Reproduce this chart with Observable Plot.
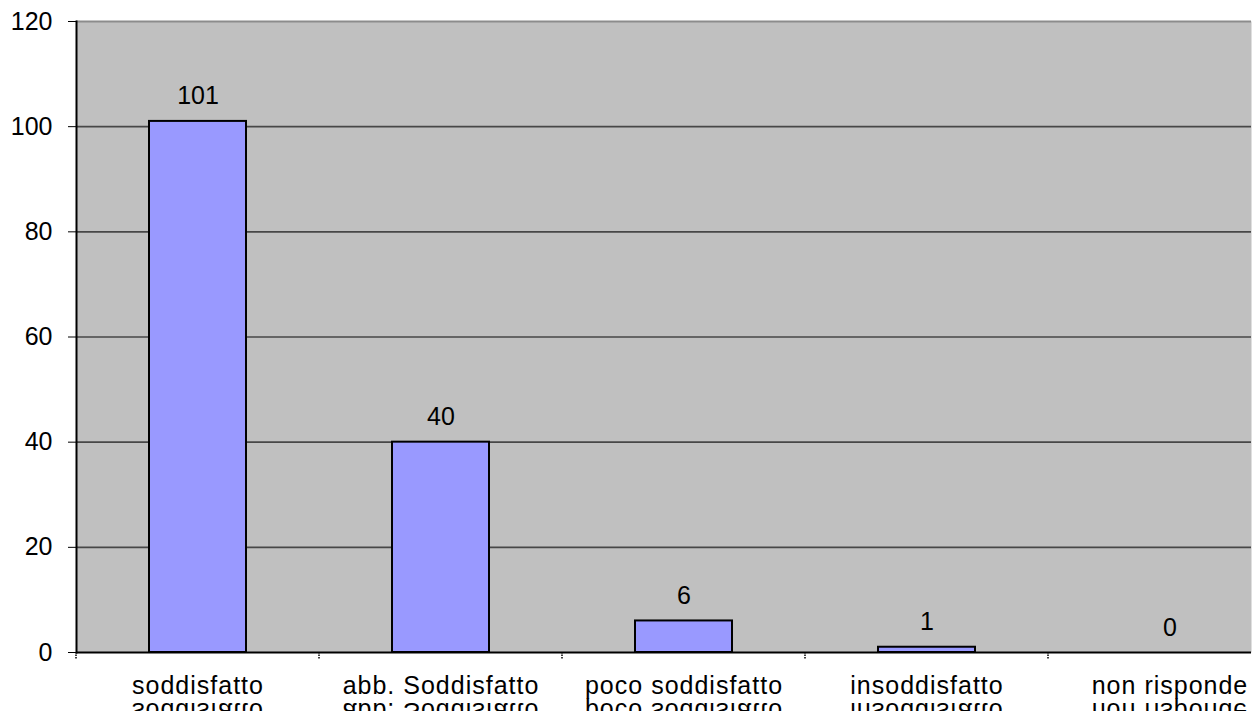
<!DOCTYPE html>
<html><head><meta charset="utf-8">
<script src="https://cdn.jsdelivr.net/npm/d3@7"></script>
<script src="https://cdn.jsdelivr.net/npm/@observablehq/plot@0.6"></script>
<style>body{margin:0;background:#fff} svg{display:block}</style>
</head><body><div id="chart"></div>
<script>
const categories = ["soddisfatto", "abb. Soddisfatto", "poco soddisfatto", "insoddisfatto", "non risponde"];
const values = [101, 40, 6, 1, 0];
const yTicks = [0, 20, 40, 60, 80, 100, 120];
const gridTicks = [20, 40, 60, 80, 100];
const data = categories.map((c, i) => ({category: c, value: values[i]}));

const font = "'Liberation Sans', Arial, sans-serif";

// small ticks at category boundaries (Excel style), computed from Plot's x scale
const bandTicks = (index, scales) => {
  const x = scales.x;
  const bw = typeof x.bandwidth === "function" ? x.bandwidth() : x.bandwidth;
  const centers = categories.map(c => x(c) + bw / 2);
  const step = centers[1] - centers[0];
  const y0 = scales.y(0);
  const g = d3.create("svg:g");
  centers.forEach(cx => {
    const b = cx - step / 2;
    g.append("line").attr("x1", b).attr("x2", b).attr("y1", y0).attr("y2", y0 + 7)
      .attr("stroke", "#000").attr("stroke-width", 1.5).attr("stroke-dasharray", "1.5,1");
  });
  return g.node();
};

const spacing = (index, scales, values, dims, context, next) => {
  const g = next(index, scales, values, dims, context);
  g.setAttribute("letter-spacing", "1px");
  return g;
};
const flip = (index, scales, values, dims, context, next) => {
  const g = next(index, scales, values, dims, context);
  g.setAttribute("letter-spacing", "1px");
  d3.select(g).selectAll("text").attr("transform", function () {
    return (this.getAttribute("transform") || "") + " scale(1,-1)";
  });
  return g;
};

const plot = Plot.plot({
  width: 1258, height: 711,
  marginLeft: 76, marginRight: 7, marginTop: 21, marginBottom: 59,
  style: {fontFamily: font, fontSize: "25px", background: "#fff", color: "#000"},
  x: {type: "band", domain: categories, range: [76, 1291], paddingInner: 0.6, paddingOuter: 0.3, axis: null},
  y: {domain: [0, 120], axis: null},
  marks: [
    Plot.frame({fill: "#c0c0c0"}),
    Plot.ruleY([120], {stroke: "#8c8c8c", strokeWidth: 2}),
    Plot.ruleY(gridTicks, {stroke: "#474747", strokeWidth: 1.6}),
    Plot.barY(data, {x: "category", y: "value", fill: "#9999ff", stroke: "#000", strokeWidth: 2}),
    Plot.ruleY([0], {stroke: "#000", strokeWidth: 2}),
    Plot.frame({anchor: "left", stroke: "#000", strokeWidth: 2}),
    Plot.axisY({ticks: yTicks, tickSize: 8, tickPadding: 16, fontSize: 25, label: null}),
    bandTicks,
    Plot.text(data, {x: "category", y: "value", text: d => String(d.value), dy: -25, fontSize: 25}),
    Plot.text(categories, {x: d => d, y: () => 0, text: d => d, dy: 33, fontSize: 25, render: spacing}),
    Plot.text(categories, {x: d => d, y: () => 0, text: d => d, dy: 58, fontSize: 25, render: flip})
  ]
});
document.getElementById("chart").appendChild(plot);
</script>
</body></html>
